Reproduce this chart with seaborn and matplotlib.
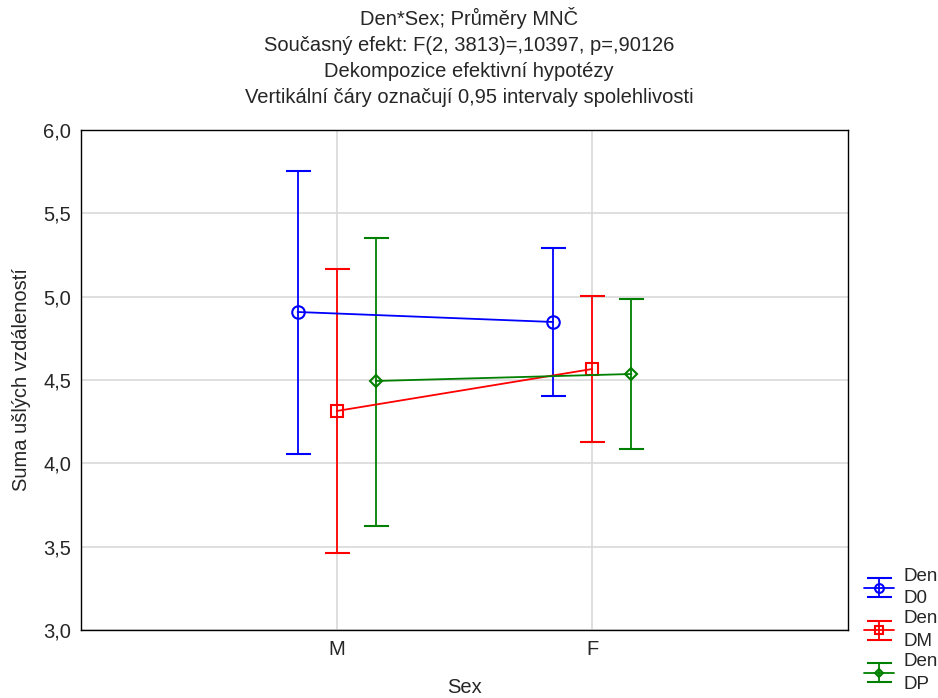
import numpy as np
import pandas as pd
import matplotlib
matplotlib.use('Agg')
import matplotlib.pyplot as plt
import seaborn as sns

sns.set_style('white')
plt.rcParams['font.family'] = ['Liberation Sans', 'DejaVu Sans']
plt.rcParams['font.size'] = 14.5

# data
sex = ['M', 'F']
den = ['D0', 'DM', 'DP']
mean_d0 = [4.908, 4.848]
low_d0 = [4.056, 4.404]
high_d0 = [5.754, 5.292]
mean_dm = [4.314, 4.566]
low_dm = [3.462, 4.128]
high_dm = [5.166, 5.004]
mean_dp = [4.494, 4.536]
low_dp = [3.624, 4.086]
high_dp = [5.352, 4.986]

df = pd.DataFrame({
    'Sex': sex * 3,
    'Den': np.repeat(den, 2),
    'mean': mean_d0 + mean_dm + mean_dp,
    'low': low_d0 + low_dm + low_dp,
    'high': high_d0 + high_dm + high_dp,
})

colors = {'D0': '#0000ff', 'DM': '#ff0000', 'DP': '#008000'}
markers = {'D0': 'o', 'DM': 's', 'DP': 'D'}
msizes = {'D0': 9, 'DM': 9, 'DP': 6}
offsets = {'D0': -0.153, 'DM': 0.0, 'DP': 0.153}

fig = plt.figure(figsize=(9.38, 6.98), dpi=100)
ax = fig.add_axes([0.0864, 0.0974, 0.8176, 0.7164])

for d in den:
    sub = df[df['Den'] == d]
    x = np.array([sex.index(s) for s in sub['Sex']]) + offsets[d]
    yerr = [sub['mean'] - sub['low'], sub['high'] - sub['mean']]
    ax.errorbar(x, sub['mean'], yerr=yerr, color=colors[d], marker=markers[d],
                markersize=msizes[d], markerfacecolor='none', markeredgewidth=1.5,
                capsize=9, elinewidth=1.3, capthick=1.3, lw=1.3,
                label='Den\n' + d)

ax.set_xlim(-1, 2)
ax.set_ylim(3.0, 6.0)
ax.set_xticks([0, 1])
ax.set_xticklabels(sex)
yt = np.arange(3.0, 6.01, 0.5)
ax.set_yticks(yt)
ax.set_yticklabels([f'{v:.1f}'.replace('.', ',') for v in yt])
ax.grid(True, color='#d9d9d9', lw=1.2)
ax.set_axisbelow(True)
for s in ax.spines.values():
    s.set_color('black')
    s.set_linewidth(1)
ax.tick_params(axis='both', length=0, pad=7)
ax.set_xlabel('Sex', labelpad=14)
ax.set_ylabel('Suma ušlých vzdáleností', labelpad=9)

fig.text(0.5, 1 - 7 / 698, 'Den*Sex; Průměry MNČ\nSoučasný efekt: F(2, 3813)=,10397, p=,90126\n'
         'Dekompozice efektivní hypotézy\nVertikální čáry označují 0,95 intervaly spolehlivosti',
         ha='center', va='top', linespacing=1.47, fontsize=14.5)

leg = fig.legend(loc='lower left', bbox_to_anchor=(855 / 938, -0.006), frameon=False,
                 fontsize=13.5, handlelength=1.6, handletextpad=0.5, labelspacing=0.15,
                 borderpad=0.0, markerscale=0.7)
for t in leg.get_texts():
    t.set_linespacing(1.45)

fig.savefig('out.png', dpi=100)
